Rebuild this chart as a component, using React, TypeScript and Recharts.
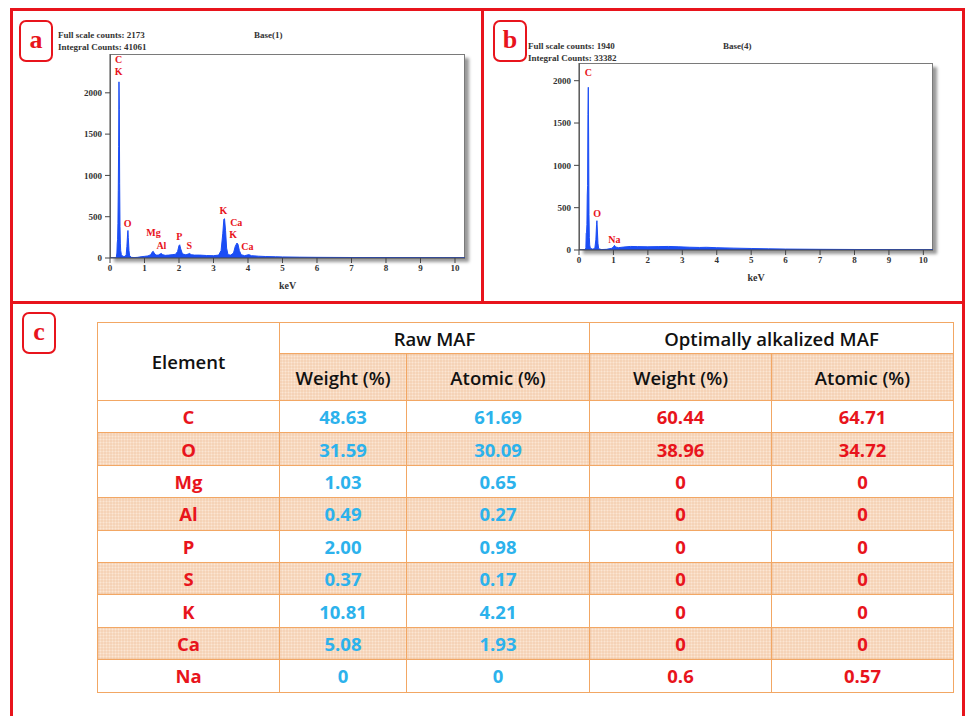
import React from 'react';
import { AreaChart, Area, XAxis, YAxis, ReferenceDot } from 'recharts';

// EDS spectrum, raw MAF (keV, counts)
const rawKev = [
  0, 0.18, 0.2, 0.21, 0.22, 0.23, 0.24, 0.25, 0.26, 0.27, 0.28, 0.29, 0.3, 0.31, 0.33, 0.36, 0.4, 0.44, 0.47,
  0.49, 0.51, 0.52, 0.53, 0.55, 0.57, 0.62, 0.7, 0.8, 0.9, 1.0, 1.1, 1.18, 1.23, 1.25, 1.28, 1.33, 1.4, 1.46,
  1.49, 1.53, 1.6, 1.7, 1.8, 1.9, 1.96, 2.0, 2.02, 2.05, 2.1, 2.2, 2.28, 2.31, 2.35, 2.45, 2.6, 2.8, 3.0, 3.15,
  3.22, 3.27, 3.3, 3.32, 3.35, 3.38, 3.42, 3.5, 3.58, 3.63, 3.68, 3.71, 3.75, 3.8, 3.9, 4.0, 4.03, 4.1, 4.3,
  4.5, 4.8, 5.0, 5.5, 6.0, 7.0, 8.0, 9.0, 10.0, 10.29,
];
const rawCounts = [
  0, 0, 60, 180, 220, 420, 820, 1350, 2133, 1800, 900, 380, 180, 90, 40, 25, 18, 20, 40,
  140, 290, 333, 250, 90, 25, 8, 5, 8, 15, 20, 25, 40, 75, 82, 60, 35, 35, 50,
  55, 40, 32, 35, 40, 45, 80, 150, 160, 110, 50, 38, 50, 55, 40, 35, 35, 30, 28, 35,
  90, 300, 470, 475, 330, 120, 40, 35, 60, 140, 181, 165, 90, 40, 28, 38, 40, 28, 22,
  18, 15, 13, 10, 8, 6, 5, 4, 3, 3,
];

// EDS spectrum, optimally alkalized MAF
const alkKev = [
  0, 0.18, 0.2, 0.21, 0.22, 0.23, 0.24, 0.25, 0.26, 0.27, 0.28, 0.29, 0.3, 0.31, 0.33, 0.4, 0.46, 0.49, 0.51,
  0.52, 0.53, 0.55, 0.57, 0.65, 0.8, 0.95, 1.0, 1.03, 1.06, 1.15, 1.3, 1.5, 1.7, 2.0, 2.3, 2.6, 2.9, 3.2, 3.5,
  3.7, 4.0, 4.5, 5.0, 5.5, 6.0, 7.0, 8.0, 9.0, 10.0, 10.28,
];
const alkCounts = [
  0, 0, 30, 200, 210, 300, 650, 760, 1600, 1922, 1300, 420, 150, 60, 20, 10, 20, 120, 300,
  346, 260, 80, 15, 5, 8, 20, 35, 55, 35, 28, 35, 42, 40, 38, 40, 42, 38, 33, 30,
  32, 27, 22, 18, 14, 11, 8, 6, 4, 3, 3,
];

const kevTicks = [0, 1, 2, 3, 4, 5, 6, 7, 8, 9, 10];
const countTicks = [0, 500, 1000, 1500, 2000];

// peak labels: text anchored at (keV, counts)
const rawPeaks = [
  { name: 'C', kev: 0.25, counts: 2400 },
  { name: 'K', kev: 0.25, counts: 2255 },
  { name: 'O', kev: 0.51, counts: 414 },
  { name: 'Mg', kev: 1.26, counts: 306 },
  { name: 'Al', kev: 1.49, counts: 149 },
  { name: 'P', kev: 2.01, counts: 257 },
  { name: 'S', kev: 2.3, counts: 149 },
  { name: 'K', kev: 3.29, counts: 571 },
  { name: 'Ca', kev: 3.66, counts: 426 },
  { name: 'K', kev: 3.57, counts: 281 },
  { name: 'Ca', kev: 3.98, counts: 136 },
];
const alkPeaks = [
  { name: 'C', kev: 0.27, counts: 2102 },
  { name: 'O', kev: 0.53, counts: 437 },
  { name: 'Na', kev: 1.03, counts: 130 },
];

// composition table
const elements = ['C', 'O', 'Mg', 'Al', 'P', 'S', 'K', 'Ca', 'Na'];
const rawWeight = ['48.63', '31.59', '1.03', '0.49', '2.00', '0.37', '10.81', '5.08', '0'];
const rawAtomic = ['61.69', '30.09', '0.65', '0.27', '0.98', '0.17', '4.21', '1.93', '0'];
const alkWeight = ['60.44', '38.96', '0', '0', '0', '0', '0', '0', '0.6'];
const alkAtomic = ['64.71', '34.72', '0', '0', '0', '0', '0', '0', '0.57'];

const RED = '#e8141c';
const BLUE = '#1b4df5';
const SERIF = '"Liberation Serif", "Times New Roman", serif';
const SANS = '"Open Sans", "Noto Sans", sans-serif';

const tickStyle = { fontSize: 9, fontFamily: SERIF, fontWeight: 'bold', fill: '#333' };

type Peak = { name: string; kev: number; counts: number };

type SpectrumProps = {
  kev: number[];
  counts: number[];
  peaks: Peak[];
  left: number;
  top: number;
  width: number;
  height: number;
  kevMax: number;
  countMax: number;
};

const Spectrum = ({ kev, counts, peaks, left, top, width, height, kevMax, countMax }: SpectrumProps) => {
  const data = kev.map((k, i) => ({ kev: k, counts: counts[i] }));
  const m = { top: 10, right: 15, bottom: 0, left: 0 };
  const yw = 50;
  const xh = 36;
  return (
    <>
      {/* plot frame with drop shadow */}
      <div
        style={{
          position: 'absolute',
          left: left + m.left + yw,
          top: top + m.top,
          width: width - m.left - m.right - yw,
          height: height - m.top - m.bottom - xh,
          boxSizing: 'border-box',
          border: '1px solid #7a7a7a',
          background: '#fff',
          boxShadow: '4px 4px 3px #9a9a9a',
        }}
      />
      <div style={{ position: 'absolute', left, top }}>
        <AreaChart width={width} height={height} data={data} margin={m}>
          <XAxis
            dataKey="kev"
            type="number"
            domain={[0, kevMax]}
            ticks={kevTicks}
            allowDataOverflow
            height={xh}
            tickSize={5}
            tickMargin={2}
            stroke="#444"
            tick={tickStyle}
            label={{ value: 'keV', position: 'insideBottom', offset: 5, style: { ...tickStyle, fontSize: 10 } }}
          />
          <YAxis
            type="number"
            domain={[0, countMax]}
            ticks={countTicks}
            allowDataOverflow
            width={yw}
            tickSize={5}
            tickMargin={3}
            stroke="#444"
            tick={tickStyle}
          />
          <Area
            type="linear"
            dataKey="counts"
            stroke={BLUE}
            strokeWidth={1}
            fill={BLUE}
            fillOpacity={1}
            isAnimationActive={false}
            dot={false}
            activeDot={false}
          />
          {peaks.map((p, i) => (
            <ReferenceDot
              key={i}
              x={p.kev}
              y={p.counts}
              r={0}
              fill="none"
              stroke="none"
              label={{
                value: p.name,
                position: 'center',
                fill: RED,
                fontSize: 10,
                fontWeight: 'bold',
                fontFamily: SERIF,
              }}
            />
          ))}
        </AreaChart>
      </div>
    </>
  );
};

const headText: React.CSSProperties = {
  position: 'absolute',
  fontFamily: SERIF,
  fontWeight: 'bold',
  fontSize: 9,
  color: '#333',
  whiteSpace: 'nowrap',
  lineHeight: '11px',
};

const PanelTag = ({ letter, left, top }: { letter: string; left: number; top: number }) => (
  <div
    style={{
      position: 'absolute',
      left,
      top,
      width: 34,
      height: 42,
      boxSizing: 'border-box',
      border: `2.5px solid ${RED}`,
      borderRadius: 7,
      background: '#fff',
      color: RED,
      fontFamily: SERIF,
      fontWeight: 'bold',
      fontSize: 26,
      lineHeight: '36px',
      textAlign: 'center',
    }}
  >
    {letter}
  </div>
);

const redLine = (left: number, top: number, width: number, height: number) => (
  <div style={{ position: 'absolute', left, top, width, height, background: RED }} />
);

const ORANGE = '#f2a764';
const shaded: React.CSSProperties = {
  backgroundColor: '#fbe6d4',
  backgroundImage:
    'repeating-linear-gradient(0deg, rgba(232,170,120,0.35) 0 1px, transparent 1px 3px), repeating-linear-gradient(90deg, rgba(232,170,120,0.35) 0 1px, transparent 1px 3px)',
};
const cell: React.CSSProperties = {
  border: `1.5px solid ${ORANGE}`,
  textAlign: 'center',
  verticalAlign: 'middle',
  padding: 0,
  fontFamily: SANS,
  fontWeight: 700,
  fontSize: 18.5,
};
const headCell: React.CSSProperties = { ...cell, fontWeight: 600, fontSize: 18.5, color: '#111' };

const CompositionTable = () => (
  <table
    style={{
      position: 'absolute',
      left: 97,
      top: 322,
      width: 856,
      borderCollapse: 'collapse',
      tableLayout: 'fixed',
    }}
  >
    <colgroup>
      <col style={{ width: 182 }} />
      <col style={{ width: 127 }} />
      <col style={{ width: 183 }} />
      <col style={{ width: 182 }} />
      <col style={{ width: 182 }} />
    </colgroup>
    <tbody>
      <tr style={{ height: 31 }}>
        <td rowSpan={2} style={{ ...headCell, background: '#fff' }}>Element</td>
        <td colSpan={2} style={headCell}>Raw MAF</td>
        <td colSpan={2} style={headCell}>Optimally alkalized MAF</td>
      </tr>
      <tr style={{ height: 47 }}>
        {['Weight (%)', 'Atomic (%)', 'Weight (%)', 'Atomic (%)'].map((h, i) => (
          <td key={i} style={{ ...headCell, ...shaded }}>{h}</td>
        ))}
      </tr>
      {elements.map((el, i) => {
        const bg = i % 2 === 1 ? shaded : { background: '#fff' };
        return (
          <tr key={el} style={{ height: 32.4 }}>
            <td style={{ ...cell, ...bg, color: RED }}>{el}</td>
            <td style={{ ...cell, ...bg, color: '#2cb2ec' }}>{rawWeight[i]}</td>
            <td style={{ ...cell, ...bg, color: '#2cb2ec' }}>{rawAtomic[i]}</td>
            <td style={{ ...cell, ...bg, color: RED }}>{alkWeight[i]}</td>
            <td style={{ ...cell, ...bg, color: RED }}>{alkAtomic[i]}</td>
          </tr>
        );
      })}
    </tbody>
  </table>
);

export default function App() {
  return (
    <div
      style={{
        position: 'absolute',
        left: 0,
        top: 0,
        width: 966,
        height: 716,
        overflow: 'hidden',
        background: '#fff',
      }}
    >
      {/* panel frames */}
      {redLine(10, 8, 955, 3)}
      {redLine(10, 8, 3, 720)}
      {redLine(962, 8, 3, 720)}
      {redLine(481, 8, 3, 296)}
      {redLine(10, 301, 955, 3)}

      {/* (a) raw MAF */}
      <PanelTag letter="a" left={19} top={20} />
      <div style={{ ...headText, left: 58, top: 30 }}>Full scale counts: 2173</div>
      <div style={{ ...headText, left: 58, top: 42 }}>Integral Counts: 41061</div>
      <div style={{ ...headText, left: 254, top: 30 }}>Base(1)</div>
      <Spectrum
        kev={rawKev}
        counts={rawCounts}
        peaks={rawPeaks}
        left={60}
        top={44}
        width={420}
        height={250}
        kevMax={10.29}
        countMax={2470}
      />

      {/* (b) optimally alkalized MAF */}
      <PanelTag letter="b" left={493} top={20} />
      <div style={{ ...headText, left: 528, top: 41 }}>Full scale counts: 1940</div>
      <div style={{ ...headText, left: 528, top: 53 }}>Integral Counts: 33382</div>
      <div style={{ ...headText, left: 723, top: 41 }}>Base(4)</div>
      <Spectrum
        kev={alkKev}
        counts={alkCounts}
        peaks={alkPeaks}
        left={529}
        top={53}
        width={419}
        height={233}
        kevMax={10.28}
        countMax={2209}
      />

      {/* (c) composition table */}
      <PanelTag letter="c" left={22} top={312} />
      <CompositionTable />
    </div>
  );
}
